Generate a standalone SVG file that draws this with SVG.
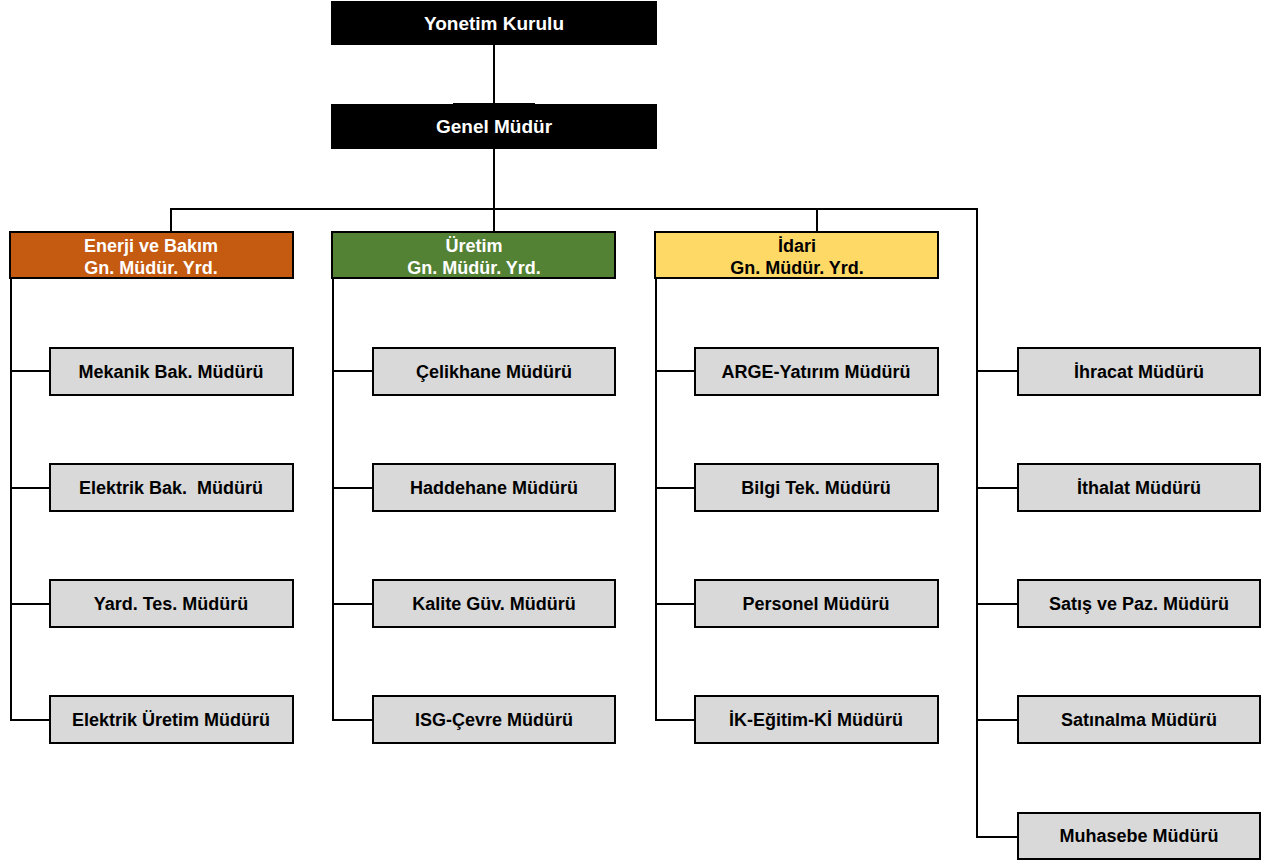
<svg xmlns="http://www.w3.org/2000/svg" width="1278" height="861" viewBox="0 0 1278 861">
<style>
text{font-family:"Liberation Sans",Arial,sans-serif;font-weight:bold;text-anchor:middle}
.top{fill:#000;stroke:#000;stroke-width:2}
.tt{fill:#fff;font-size:19px}
.hd{stroke:#000;stroke-width:2}
.ht{font-size:18px}
.ch{fill:#d9d9d9;stroke:#000;stroke-width:2}
.ct{fill:#000;font-size:18px}
.ln{fill:none;stroke:#000;stroke-width:2}
</style>
<rect width="1278" height="861" fill="#fff"/>
<g id="connectors">
<line class="ln" x1="494" y1="44" x2="494" y2="105"/>
<line class="ln" x1="453" y1="104" x2="535" y2="104"/>
<line class="ln" x1="494" y1="148" x2="494" y2="209"/>
<polyline class="ln" points="171,232 171,209 977,209 977,837 1018,837"/>
<line class="ln" x1="494" y1="209" x2="494" y2="232"/>
<line class="ln" x1="817" y1="209" x2="817" y2="232"/>
<line class="ln" x1="977" y1="371" x2="1018" y2="371"/>
<line class="ln" x1="977" y1="488" x2="1018" y2="488"/>
<line class="ln" x1="977" y1="604" x2="1018" y2="604"/>
<line class="ln" x1="977" y1="720" x2="1018" y2="720"/>
<polyline class="ln" points="11,278 11,720 50,720"/>
<line class="ln" x1="11" y1="371" x2="50" y2="371"/>
<line class="ln" x1="11" y1="488" x2="50" y2="488"/>
<line class="ln" x1="11" y1="604" x2="50" y2="604"/>
<polyline class="ln" points="333,278 333,720 373,720"/>
<line class="ln" x1="333" y1="371" x2="373" y2="371"/>
<line class="ln" x1="333" y1="488" x2="373" y2="488"/>
<line class="ln" x1="333" y1="604" x2="373" y2="604"/>
<polyline class="ln" points="656,278 656,720 695,720"/>
<line class="ln" x1="656" y1="371" x2="695" y2="371"/>
<line class="ln" x1="656" y1="488" x2="695" y2="488"/>
<line class="ln" x1="656" y1="604" x2="695" y2="604"/>
</g>
<g id="yonetim"><rect class="top" x="332" y="2" width="324" height="42"/><text class="tt" x="494" y="30">Yonetim Kurulu</text></g>
<g id="genel"><rect class="top" x="332" y="105" width="324" height="43"/><text class="tt" x="494" y="133">Genel Müdür</text></g>
<g id="enerji"><rect class="hd" x="10" y="232" width="283" height="46" fill="#c55a11"/><text class="ht" fill="#fff" x="151" y="252">Enerji ve Bakım</text><text class="ht" fill="#fff" x="151" y="274">Gn. Müdür. Yrd.</text></g>
<g id="uretim"><rect class="hd" x="332" y="232" width="283" height="46" fill="#548235"/><text class="ht" fill="#fff" x="474" y="252">Üretim</text><text class="ht" fill="#fff" x="474" y="274">Gn. Müdür. Yrd.</text></g>
<g id="idari"><rect class="hd" x="655" y="232" width="283" height="46" fill="#ffd966"/><text class="ht" fill="#000" x="797" y="252">İdari</text><text class="ht" fill="#000" x="797" y="274">Gn. Müdür. Yrd.</text></g>
<g id="mekanik"><rect class="ch" x="50" y="348" width="243" height="47"/><text class="ct" x="171" y="378">Mekanik Bak. Müdürü</text></g>
<g id="elektrikbak"><rect class="ch" x="50" y="464" width="243" height="47"/><text class="ct" x="171" y="494" xml:space="preserve">Elektrik Bak.  Müdürü</text></g>
<g id="yardtes"><rect class="ch" x="50" y="580" width="243" height="47"/><text class="ct" x="171" y="610">Yard. Tes. Müdürü</text></g>
<g id="elektrikuretim"><rect class="ch" x="50" y="696" width="243" height="47"/><text class="ct" x="171" y="726">Elektrik Üretim Müdürü</text></g>
<g id="celikhane"><rect class="ch" x="373" y="348" width="242" height="47"/><text class="ct" x="494" y="378">Çelikhane Müdürü</text></g>
<g id="haddehane"><rect class="ch" x="373" y="464" width="242" height="47"/><text class="ct" x="494" y="494">Haddehane Müdürü</text></g>
<g id="kalite"><rect class="ch" x="373" y="580" width="242" height="47"/><text class="ct" x="494" y="610">Kalite Güv. Müdürü</text></g>
<g id="isg"><rect class="ch" x="373" y="696" width="242" height="47"/><text class="ct" x="494" y="726">ISG-Çevre Müdürü</text></g>
<g id="arge"><rect class="ch" x="695" y="348" width="243" height="47"/><text class="ct" x="816" y="378">ARGE-Yatırım Müdürü</text></g>
<g id="bilgi"><rect class="ch" x="695" y="464" width="243" height="47"/><text class="ct" x="816" y="494">Bilgi Tek. Müdürü</text></g>
<g id="personel"><rect class="ch" x="695" y="580" width="243" height="47"/><text class="ct" x="816" y="610">Personel Müdürü</text></g>
<g id="ik"><rect class="ch" x="695" y="696" width="243" height="47"/><text class="ct" x="816" y="726">İK-Eğitim-Kİ Müdürü</text></g>
<g id="ihracat"><rect class="ch" x="1018" y="348" width="242" height="47"/><text class="ct" x="1139" y="378">İhracat Müdürü</text></g>
<g id="ithalat"><rect class="ch" x="1018" y="464" width="242" height="47"/><text class="ct" x="1139" y="494">İthalat Müdürü</text></g>
<g id="satis"><rect class="ch" x="1018" y="580" width="242" height="47"/><text class="ct" x="1139" y="610">Satış ve Paz. Müdürü</text></g>
<g id="satinalma"><rect class="ch" x="1018" y="696" width="242" height="47"/><text class="ct" x="1139" y="726">Satınalma Müdürü</text></g>
<g id="muhasebe"><rect class="ch" x="1018" y="813" width="242" height="46"/><text class="ct" x="1139" y="842">Muhasebe Müdürü</text></g>
</svg>
